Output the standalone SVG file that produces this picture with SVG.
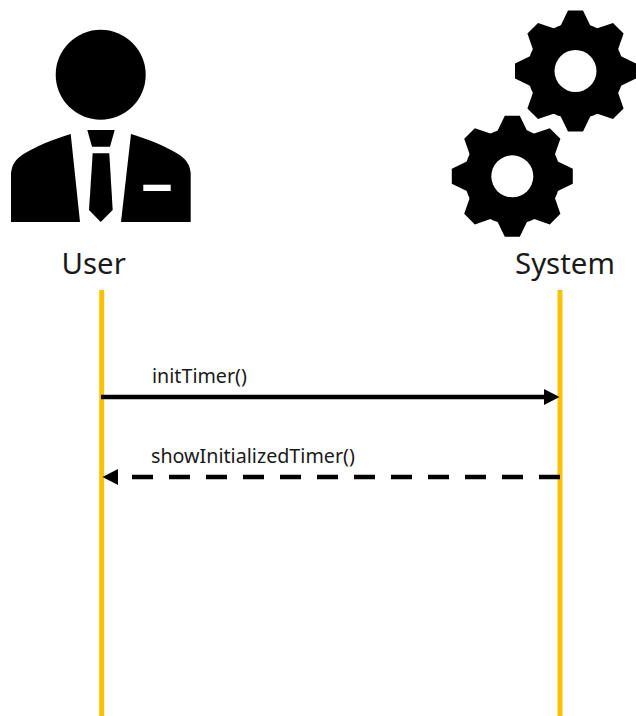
<svg xmlns="http://www.w3.org/2000/svg" xmlns:xlink="http://www.w3.org/1999/xlink" width="636" height="716" viewBox="0 0 636 716">
<style>
.lifeline{stroke:#FFC000;stroke-width:5;fill:none}
.msg{stroke:#000;stroke-width:4.5;fill:none}
.dash{stroke-dasharray:21 16}
.title{font-family:"Noto Sans","Open Sans",sans-serif;font-size:29.4px;fill:#1a1a1a}
.label{font-family:"Noto Sans","Open Sans",sans-serif;font-size:19.7px;fill:#1a1a1a}
</style>
<defs>
<marker id="head" markerUnits="userSpaceOnUse" markerWidth="16" markerHeight="18" refX="0" refY="9" orient="auto" overflow="visible">
<path d="M0 1L15.5 9L0 17Z" fill="#000"/>
</marker>
<polygon id="tooth" points="-7.5,-60.5 7.5,-60.5 15,-45 -15,-45" fill="#000"/>
<g id="gear">
<circle r="48" fill="#000"/>
<use xlink:href="#tooth" href="#tooth"/>
<use xlink:href="#tooth" href="#tooth" transform="rotate(45)"/>
<use xlink:href="#tooth" href="#tooth" transform="rotate(90)"/>
<use xlink:href="#tooth" href="#tooth" transform="rotate(135)"/>
<use xlink:href="#tooth" href="#tooth" transform="rotate(180)"/>
<use xlink:href="#tooth" href="#tooth" transform="rotate(225)"/>
<use xlink:href="#tooth" href="#tooth" transform="rotate(270)"/>
<use xlink:href="#tooth" href="#tooth" transform="rotate(315)"/>
<circle r="21" fill="#fff"/>
</g>
</defs>
<rect width="636" height="716" fill="#fff"/>
<g id="user">
<circle cx="100.7" cy="74.7" r="45" fill="#000"/>
<path d="M11 222V173C12 165 15 160 22 155C36 146 54 139 70.7 134L80 222Z" fill="#000"/>
<path d="M190.7 222V173C189.7 165 186.7 160 179.7 155C165.7 146 147.7 139 131 134L121 222Z" fill="#000"/>
<path d="M87.3 130H114.7L110 146.7H92Z" fill="#000"/>
<path d="M92.7 153.3H109.3L112.7 210L100.7 222L89 210Z" fill="#000"/>
<rect x="143.3" y="184.7" width="27.4" height="6.3" fill="#fff"/>
<text class="title" x="61.5" y="274">User</text>
<line class="lifeline" x1="101.7" y1="290" x2="101.7" y2="716"/>
</g>
<g id="system">
<use xlink:href="#gear" href="#gear" transform="translate(575.5 71)"/>
<use xlink:href="#gear" href="#gear" transform="translate(512.3 176.3)"/>
<text class="title" x="515" y="274">System</text>
<line class="lifeline" x1="560" y1="290" x2="560" y2="716"/>
</g>
<g id="connectors">
<line class="msg" x1="101" y1="397" x2="544" y2="397" marker-end="url(#head)"/>
<line class="msg dash" x1="560" y1="477" x2="118" y2="477" marker-end="url(#head)"/>
<text class="label" x="152" y="383">initTimer()</text>
<text class="label" x="151" y="463">showInitializedTimer()</text>
</g>
</svg>
